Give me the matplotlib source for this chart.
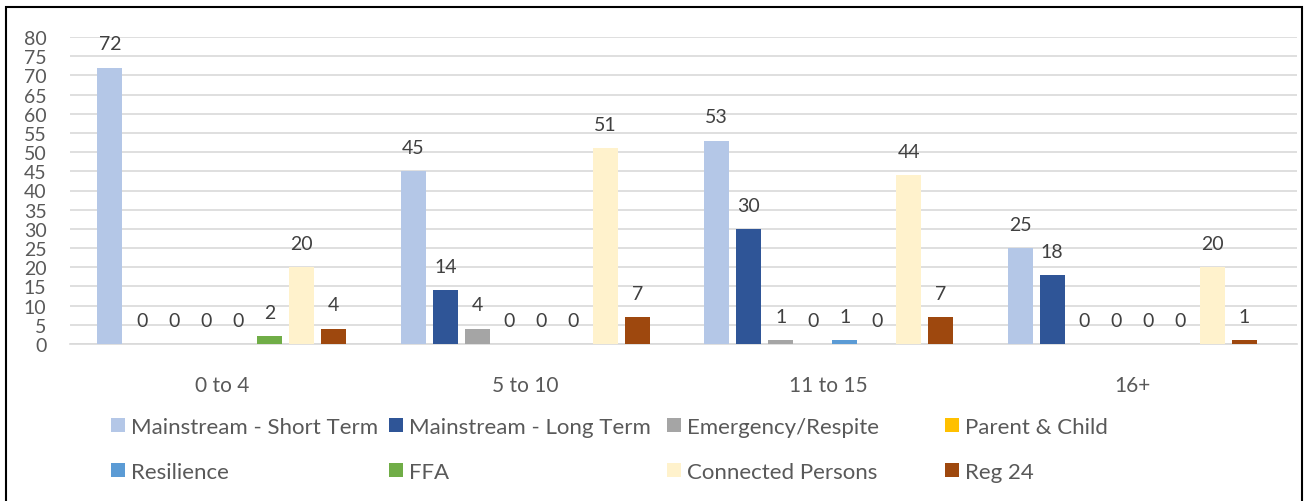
import numpy as np
import matplotlib
matplotlib.use('Agg')
import matplotlib.pyplot as plt
from matplotlib.patches import Rectangle

plt.rcParams['font.family'] = ['Lato', 'DejaVu Sans']

# data
age_groups = ['0 to 4', '5 to 10', '11 to 15', '16+']
series_names = ['Mainstream - Short Term', 'Mainstream - Long Term', 'Emergency/Respite',
                'Parent & Child', 'Resilience', 'FFA', 'Connected Persons', 'Reg 24']
short_term = [72, 45, 53, 25]
long_term = [0, 14, 30, 18]
emergency = [0, 4, 1, 0]
parent_child = [0, 0, 0, 0]
resilience = [0, 0, 1, 0]
ffa = [2, 0, 0, 0]
connected = [20, 51, 44, 20]
reg24 = [4, 7, 7, 1]

all_series = [short_term, long_term, emergency, parent_child, resilience, ffa, connected, reg24]
colors = ['#B4C7E7', '#2F5597', '#A5A5A5', '#FFC000', '#5B9BD5', '#70AD47', '#FFF2CC', '#9E480E']

W, H = 1306, 502
fig = plt.figure(figsize=(W/100, H/100), dpi=100)
ax = fig.add_axes([70/W, 1-345/H, 1227/W, 307/H])

group_px = 303.5
x = np.arange(len(age_groups))
slot = 32/group_px
width = 25/group_px
handles = []
for i, (vals, c, name) in enumerate(zip(all_series, colors, series_names)):
    pos = x + (i - 3.5) * slot
    b = ax.bar(pos, vals, width, color=c, label=name, zorder=3)
    handles.append(b)
    for p, v in zip(pos, vals):
        ax.annotate(str(v), (p, v), xytext=(0, 11), textcoords='offset points',
                    ha='center', va='bottom', fontsize=14, color='#404040')

ax.set_xlim(-0.5, -0.5 + 1227/group_px)
ax.set_ylim(0, 80)
ax.set_yticks(range(0, 81, 5))
ax.set_xticks(x)
ax.set_xticklabels(age_groups)
ax.tick_params(axis='both', length=0, labelsize=14, colors='#595959')
ax.tick_params(axis='x', pad=22, labelsize=15)
ax.tick_params(axis='y', pad=17)
ax.grid(axis='y', color='#D9D9D9', linewidth=1.2, zorder=0)
for s in ['top', 'right', 'left']:
    ax.spines[s].set_visible(False)
ax.spines['bottom'].set_color('#D9D9D9')
ax.spines['bottom'].set_linewidth(1.2)

# legend: 2 rows x 4 columns, laid out like the original
col_x = [111, 389, 667, 945]
row_y = [428, 473]
for i, h in enumerate(handles):
    r, c = divmod(i, 4)
    leg = fig.legend(handles=[h], loc='center left',
                     bbox_to_anchor=(col_x[c]/W, 1-row_y[r]/H),
                     frameon=False, fontsize=16, handlelength=0.63, handleheight=0.63,
                     handletextpad=0.27, borderpad=0, borderaxespad=0)
    for t in leg.get_texts():
        t.set_color('#595959')

fig.patches.append(Rectangle((6/W, -0.01), 1296/W, 1 - 8/H + 0.01,
                             transform=fig.transFigure, fill=False,
                             edgecolor='black', linewidth=1.5))

fig.savefig('out.png', dpi=100)
